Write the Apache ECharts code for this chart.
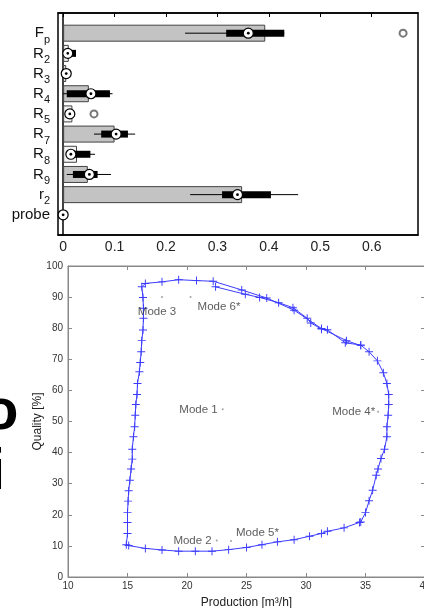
<!DOCTYPE html>
<html><head><meta charset="utf-8">
<script src="https://cdn.jsdelivr.net/npm/echarts@6/dist/echarts.min.js"></script>
<style>html,body{margin:0;padding:0;background:#fff}#c{width:424px;height:608px}</style>
</head><body><div id="c"></div>
<script>
// ---------- Top chart data ----------
const catMain = ['F','R','R','R','R','R','R','R','r','probe'];
const catSub  = ['p','2','3','4','5','7','8','9','2',''];
const barValues = [0.393, 0.011, 0.006, 0.05, 0.018, 0.1, 0.027, 0.048, 0.348, 0];
const lightBars = [false, true, true, false, true, false, true, false, false, false];
const whiskLow  = [0.237, 0.006, 0.006, 0.0,   0.004, 0.06,  0.015, 0.007, 0.247, 0];
const q1Values  = [0.317, 0.007, 0.006, 0.007, 0.004, 0.074, 0.015, 0.019, 0.309, 0];
const medians   = [0.36,  0.009, 0.006, 0.054, 0.013, 0.103, 0.015, 0.051, 0.339, 0];
const q3Values  = [0.43,  0.025, 0.006, 0.091, 0.016, 0.126, 0.053, 0.067, 0.404, 0];
const whiskHigh = [0.43,  0.025, 0.006, 0.096, 0.016, 0.14,  0.062, 0.093, 0.457, 0];
const outlierCat = [0, 4];
const outlierVal = [0.661, 0.06];
const topTicks = [0, 0.1, 0.2, 0.3, 0.4, 0.5, 0.6];

// ---------- Bottom chart data ----------
const prodX = [22.4,24.9,26.1,27.7,28.9,30.1,30.4,31.3,31.8,33.3,34.6,35.3,36.0,36.5,36.8,36.95,36.95,36.9,36.8,36.8,36.6,36.3,36.05,35.9,35.6,35.3,35.0,34.6,34.5,
  33.2,31.8,31.3,30.3,29.0,27.6,26.3,25.0,23.5,22.1,20.7,19.3,17.9,16.5,15.1,14.9,
  15.0,15.0,15.0,15.05,15.1,15.2,15.3,15.4,15.4,15.5,15.6,15.65,15.7,15.8,15.84,16.0,16.07,16.15,16.2,16.3,16.34,16.34,16.3,16.2,
  16.5,17.9,19.3,20.8,22.2,24.6,26.7,29.0,31.3,33.4,34.6];
const qualY = [93.3,90.9,89.9,88.2,86.6,83.2,81.7,79.7,79.5,75.3,74.6,72.4,69.5,65.7,62.2,58.7,55.5,52.0,48.3,45.1,41.1,38.1,34.7,32.7,27.9,24.5,20.7,17.7,17.5,
  15.8,14.7,14.0,13.1,12.0,11.3,10.4,9.5,8.8,8.3,8.3,8.3,8.7,9.2,10.1,10.4,
  14.0,17.5,20.7,24.4,27.7,31.1,34.7,37.9,41.1,45.1,48.3,52.0,55.5,58.7,62.2,66.0,69.0,72.4,76.0,79.4,83.2,86.4,89.9,93.3,
  94.4,94.9,95.6,95.3,95.1,92.3,89.7,85.8,79.9,76.0,74.4];
const modeNames = ['Mode 1','Mode 2','Mode 3','Mode 4*','Mode 5*','Mode 6*'];
const modeX = [23.0, 22.5, 17.9, 36.06, 23.7, 20.3];
const modeY = [53.9, 11.7, 90.0, 53.1, 11.6, 90.0];

// ---------- build ----------
const FONT = "'Liberation Sans', Arial, sans-serif";
const yCats = [''].concat(catMain.map((m,i)=>m+'|'+catSub[i])).concat(['']);
const barData = [null].concat(barValues.map((v,i)=>({value:v, itemStyle:{color: lightBars[i] ? '#f4f4f4' : '#c3c3c3'}}))).concat([null]);
const boxData = medians.map((m,i)=>[i+1, whiskLow[i], q1Values[i], m, q3Values[i], whiskHigh[i]]);
const outData = outlierVal.map((v,i)=>[v, outlierCat[i]+1]);
const lineData = prodX.map((x,i)=>[x, qualY[i]]);
const modeLabelPos = {
  'Mode 1': {position:'left', distance:4},
  'Mode 2': {position:'left', distance:4},
  'Mode 3': {position:'bottom', distance:8, offset:[-5,0]},
  'Mode 4*': {position:'left', distance:2},
  'Mode 5*': {position:'right', distance:4, offset:[0,-8]},
  'Mode 6*': {position:'right', distance:6, offset:[0,10]}
};
const modeData = modeNames.map((n,i)=>({name:n, value:[modeX[i], modeY[i]], label:Object.assign({show:true, formatter:n}, modeLabelPos[n])}));
const plusPath = 'path://M-0.12,-1H0.12V-0.12H1V0.12H0.12V1H-0.12V0.12H-1V-0.12H-0.12Z';

const chart = echarts.init(document.getElementById('c'), null, {renderer:'canvas'});
chart.setOption({
  animation:false,
  textStyle:{fontFamily:FONT},
  grid:[
    {left:58, top:13, right:6, height:222, show:true, borderColor:'#000', borderWidth:1.5, outerBoundsMode:'none', containLabel:false},
    {left:68, top:266, width:357, height:311, show:true, borderColor:'#888', borderWidth:1, outerBoundsMode:'none', containLabel:false}
  ],
  xAxis:[
    {gridIndex:0, type:'value', min:-0.01, max:0.69, splitLine:{show:false},
     axisLine:{show:true, onZero:false, lineStyle:{color:'#000', width:1.5}},
     axisTick:{show:false},
     axisLabel:{customValues:topTicks, fontSize:14, color:'#222', margin:5, formatter:v=> v===0?'0':v.toFixed(1)}},
    {gridIndex:0, type:'value', position:'top', min:-0.01, max:0.69, splitLine:{show:false},
     axisLine:{show:true, onZero:false, lineStyle:{color:'#000', width:1.5}},
     axisTick:{show:true, inside:true, length:4, customValues:topTicks, lineStyle:{color:'#000'}},
     axisLabel:{show:false}},
    {gridIndex:1, type:'value', min:10, max:40, interval:5, splitLine:{show:false},
     name:'Production [m³/h]', nameLocation:'middle', nameGap:20, nameMoveOverlap:false, nameTextStyle:{fontSize:12, color:'#222'},
     axisLine:{show:true, onZero:false, lineStyle:{color:'#888'}},
     axisTick:{show:true, inside:true, length:4, lineStyle:{color:'#888'}},
     axisLabel:{fontSize:10, color:'#333', margin:4}},
    {gridIndex:1, type:'value', position:'top', min:10, max:40, interval:5, splitLine:{show:false},
     axisLine:{show:true, onZero:false, lineStyle:{color:'#888'}},
     axisTick:{show:true, inside:true, length:4, lineStyle:{color:'#888'}},
     axisLabel:{show:false}}
  ],
  yAxis:[
    {gridIndex:0, type:'category', data:yCats, boundaryGap:false, inverse:true,
     axisLine:{show:true, lineStyle:{color:'#000', width:1.5}}, axisTick:{show:false},
     axisLabel:{interval:0, margin:8, color:'#111',
       formatter:v=>{ if(!v) return ''; const [m,s]=v.split('|'); return s ? '{b|'+m+'}{s|'+s+'}' : '{b|'+m+'}'; },
       rich:{b:{fontSize:15, color:'#111', fontFamily:FONT}, s:{fontSize:11, color:'#111', fontFamily:FONT, padding:[13,0,0,0]}}}},
    {gridIndex:1, type:'value', min:0, max:100, interval:10, splitLine:{show:false},
     name:'Quality [%]', nameLocation:'middle', nameGap:24, nameMoveOverlap:false, nameRotate:90, nameTextStyle:{fontSize:12, color:'#222'},
     axisLine:{show:true, onZero:false, lineStyle:{color:'#888'}},
     axisTick:{show:true, inside:true, length:4, lineStyle:{color:'#888'}},
     axisLabel:{fontSize:10, color:'#333', margin:5}},
    {gridIndex:1, type:'value', position:'right', min:0, max:100, interval:10, splitLine:{show:false},
     axisLine:{show:true, onZero:false, lineStyle:{color:'#888'}},
     axisTick:{show:true, inside:true, length:4, lineStyle:{color:'#888'}},
     axisLabel:{show:false}}
  ],
  graphic:[
    {type:'text', left:-17, top:384, style:{text:'o', font:"bold 58px 'Liberation Sans'", fill:'#000'}},
    {type:'text', left:-11, top:444, style:{text:'i', font:"bold 58px 'Liberation Sans'", fill:'#000'}}
  ],
  series:[
    {type:'bar', xAxisIndex:0, yAxisIndex:0, data:barData, barWidth:17,
     itemStyle:{borderColor:'#444', borderWidth:1}, z:2},
    {type:'custom', xAxisIndex:0, yAxisIndex:0, data:boxData, z:3,
     encode:{x:[1,2,3,4,5], y:0},
     renderItem:(params, api)=>{
       const c = api.value(0);
       const p = k => api.coord([api.value(k), c]);
       const lo=p(1), q1=p(2), md=p(3), q3=p(4), hi=p(5);
       const y = md[1];
       return {type:'group', children:[
         {type:'line', shape:{x1:lo[0], y1:y, x2:hi[0], y2:y}, style:{stroke:'#000', lineWidth:1}},
         {type:'rect', shape:{x:q1[0], y:y-3.5, width:q3[0]-q1[0], height:7}, style:{fill:'#000'}},
         {type:'circle', shape:{cx:md[0], cy:y, r:5}, style:{fill:'#fff', stroke:'#000', lineWidth:1.2}},
         {type:'circle', shape:{cx:md[0], cy:y, r:1.4}, style:{fill:'#000'}}
       ]};
     }},
    {type:'scatter', xAxisIndex:0, yAxisIndex:0, data:outData, symbol:'emptyCircle', symbolSize:7,
     itemStyle:{color:'#555', borderWidth:1}, z:4},
    {type:'line', xAxisIndex:2, yAxisIndex:1, data:lineData, symbol:plusPath, symbolSize:8,
     showAllSymbol:true, lineStyle:{color:'#3c3cff', width:1}, itemStyle:{color:'#3c3cff'}, z:3},
    {type:'scatter', xAxisIndex:2, yAxisIndex:1, data:modeData, symbol:'circle', symbolSize:2,
     itemStyle:{color:'#888'}, label:{fontSize:11.5, color:'#333'}, z:4}
  ]
});
</script></body></html>
